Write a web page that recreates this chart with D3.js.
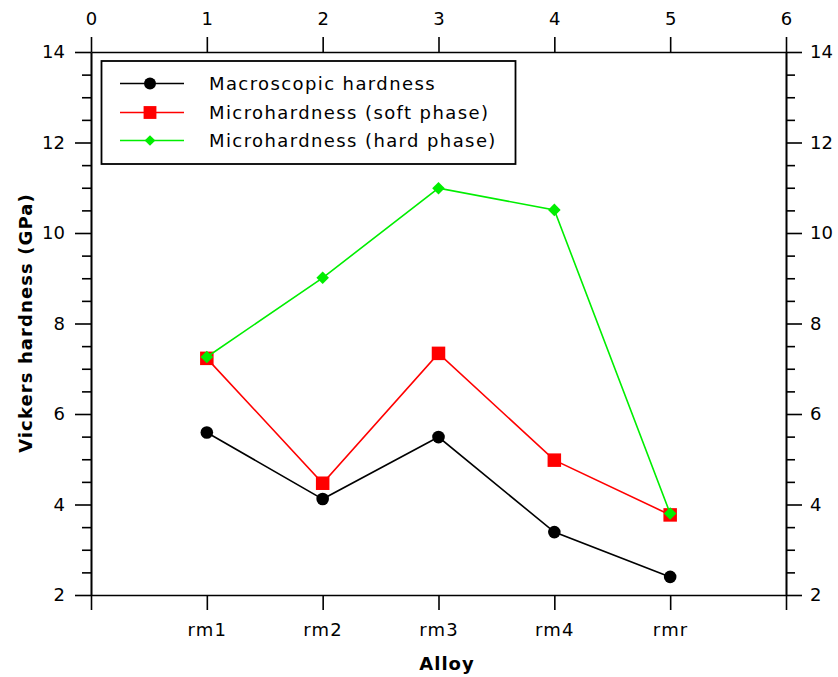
<!DOCTYPE html>
<html>
<head>
<meta charset="utf-8">
<script src="https://cdn.jsdelivr.net/npm/d3@7"></script>
<style>
  html, body { margin: 0; padding: 0; background: #fff; }
  svg { display: block; font-family: "DejaVu Sans", sans-serif; }
</style>
</head>
<body>
<svg id="chart" width="838" height="677"></svg>
<script>
// Alloys along the bottom axis (positions 1..5 of the 0..6 frame)
const alloys = ["rm1", "rm2", "rm3", "rm4", "rmr"];

// Vickers hardness, GPa
const macroHardness = [5.59, 4.12, 5.49, 3.39, 2.40];
const softPhase     = [7.23, 4.47, 7.34, 4.98, 3.77];
const hardPhase     = [7.26, 9.01, 10.99, 10.51, 3.80];

const seriesNames = ["Macroscopic hardness", "Microhardness (soft phase)", "Microhardness (hard phase)"];
const seriesColors = ["#000000", "#ff0000", "#00ee00"];
const seriesShapes = ["circle", "square", "diamond"];

const topTicks = [0, 1, 2, 3, 4, 5, 6];
const yMajorTicks = [2, 4, 6, 8, 10, 12, 14];
const yMinorTicks = d3.range(2, 14.01, 0.5).filter(v => v % 2 !== 0);

const svg = d3.select("#chart");
const plotLeft = 91, plotRight = 786, plotTop = 52, plotBottom = 595;

const x = d3.scaleLinear().domain([0, 6]).range([plotLeft, plotRight]);
const y = d3.scaleLinear().domain([2, 14]).range([plotBottom, plotTop]);

const axisStroke = 1.6;
function styleAxis(g) {
  g.selectAll("path.domain").attr("stroke", "#000").attr("stroke-width", axisStroke);
  g.selectAll(".tick line").attr("stroke", "#000").attr("stroke-width", axisStroke);
  g.selectAll(".tick text").attr("fill", "#000").attr("font-size", 18)
    .attr("font-family", "'DejaVu Sans', sans-serif");
}

// Left axis: minor then major ticks
svg.append("g").attr("transform", `translate(${plotLeft},0)`)
  .call(d3.axisLeft(y).tickValues(yMinorTicks).tickSize(9).tickFormat("").tickSizeOuter(0))
  .call(styleAxis);
svg.append("g").attr("transform", `translate(${plotLeft},0)`)
  .call(d3.axisLeft(y).tickValues(yMajorTicks).tickSize(16).tickPadding(10).tickSizeOuter(0))
  .call(styleAxis);

// Right axis
svg.append("g").attr("transform", `translate(${plotRight},0)`)
  .call(d3.axisRight(y).tickValues(yMinorTicks).tickSize(9).tickFormat("").tickSizeOuter(0))
  .call(styleAxis);
svg.append("g").attr("transform", `translate(${plotRight},0)`)
  .call(d3.axisRight(y).tickValues(yMajorTicks).tickSize(16).tickPadding(8).tickSizeOuter(0))
  .call(styleAxis);

// Top axis with numeric positions
svg.append("g").attr("transform", `translate(0,${plotTop})`)
  .call(d3.axisTop(x).tickValues(topTicks).tickSize(15).tickPadding(12).tickSizeOuter(0).tickFormat(d3.format("d")))
  .call(styleAxis);

// Bottom axis with alloy names
svg.append("g").attr("transform", `translate(0,${plotBottom})`)
  .call(d3.axisBottom(x).tickValues(topTicks).tickSize(15).tickPadding(13).tickSizeOuter(0)
    .tickFormat(d => (d >= 1 && d <= alloys.length) ? alloys[d - 1] : ""))
  .call(styleAxis)
  .call(g => g.selectAll(".tick text").attr("letter-spacing", 1.2));

// Axis titles
svg.append("text")
  .attr("x", 447).attr("y", 670)
  .attr("text-anchor", "middle")
  .attr("font-size", 18).attr("font-weight", "bold").attr("letter-spacing", 1)
  .text("Alloy");

svg.append("text")
  .attr("transform", "translate(32,323) rotate(-90)")
  .attr("text-anchor", "middle")
  .attr("font-size", 18).attr("font-weight", "bold").attr("letter-spacing", 1.1)
  .text("Vickers hardness (GPa)");

// Marker drawing helper
function drawMarker(sel, shape, color, cx, cy, scale) {
  if (shape === "circle") {
    sel.append("circle").attr("cx", cx).attr("cy", cy).attr("r", 6.3 * scale).attr("fill", color);
  } else if (shape === "square") {
    const s = 13.5 * scale;
    sel.append("rect").attr("x", cx - s / 2).attr("y", cy - s / 2)
      .attr("width", s).attr("height", s).attr("fill", color);
  } else {
    const r = 6.3 * scale;
    sel.append("path")
      .attr("d", `M${cx},${cy - r}L${cx + r},${cy}L${cx},${cy + r}L${cx - r},${cy}Z`)
      .attr("fill", color);
  }
}

const allSeries = [macroHardness, softPhase, hardPhase];
const line = d3.line().x((d, i) => x(i + 1)).y(d => y(d));

allSeries.forEach((vals, k) => {
  const g = svg.append("g");
  g.append("path").datum(vals)
    .attr("d", line)
    .attr("fill", "none")
    .attr("stroke", seriesColors[k])
    .attr("stroke-width", 1.6);
  vals.forEach((v, i) => drawMarker(g, seriesShapes[k], seriesColors[k], x(i + 1), y(v), 1));
});

// Legend
const legend = svg.append("g");
legend.append("rect")
  .attr("x", 101.5).attr("y", 61).attr("width", 414).attr("height", 103)
  .attr("fill", "#fff").attr("stroke", "#000").attr("stroke-width", 1.8);
const legendRows = [83.5, 112.5, 140.5];
seriesNames.forEach((name, k) => {
  const ly = legendRows[k];
  legend.append("line")
    .attr("x1", 120).attr("x2", 184).attr("y1", ly).attr("y2", ly)
    .attr("stroke", seriesColors[k]).attr("stroke-width", 1.6);
  drawMarker(legend, seriesShapes[k], seriesColors[k], 150, ly, k === 2 ? 0.85 : 0.95);
  legend.append("text")
    .attr("x", 209).attr("y", ly).attr("dy", "0.35em")
    .attr("font-size", 18).attr("letter-spacing", 1.4)
    .text(name);
});
</script>
</body>
</html>
